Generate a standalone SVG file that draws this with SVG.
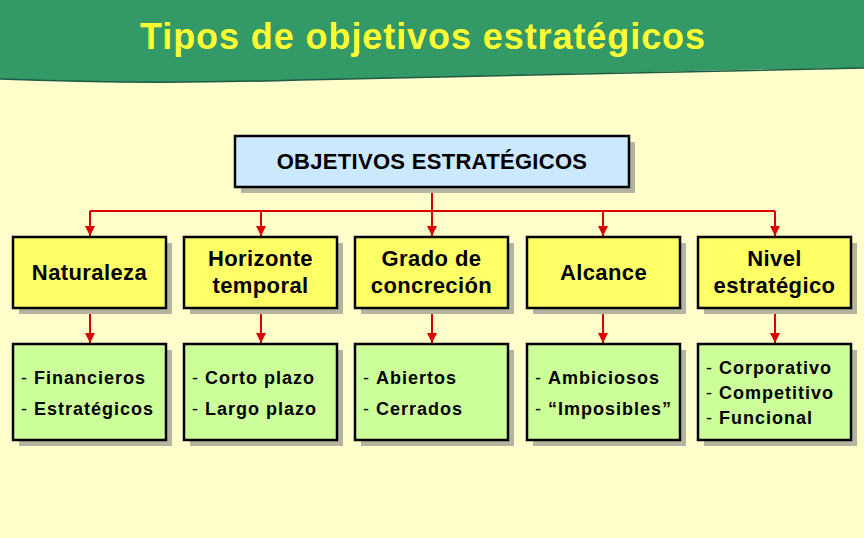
<svg xmlns="http://www.w3.org/2000/svg" width="864" height="538" viewBox="0 0 864 538">
<defs>
<marker id="arr" viewBox="0 0 10 10" refX="10" refY="5" markerWidth="10" markerHeight="10" markerUnits="userSpaceOnUse" orient="auto">
<path d="M0,0 L10,5 L0,10 z" fill="#DD0000"/>
</marker>
</defs>
<style>
.sh{fill:#B4B4A0}
.top{fill:#CCE8FF;stroke:#000;stroke-width:2.5}
.l2{fill:#FFFF66;stroke:#000;stroke-width:2.5}
.l3{fill:#CCFF99;stroke:#000;stroke-width:2.5}
text{font-family:"Liberation Sans",Arial,sans-serif;font-weight:bold;fill:#000}
.t2{font-size:22px;text-anchor:middle;letter-spacing:0.4px}
.t3{font-size:18px;letter-spacing:1px}
.d{font-weight:normal}
.c{stroke:#DD0000;stroke-width:2;fill:none}
</style>
<rect width="864" height="538" fill="#FFFFCC"/>
<path d="M0,0 H864 V68 C700,70 500,76 300,80 C200,83 100,83 0,79 Z" fill="#339966"/>
<path d="M864,68 C700,70 500,76 300,80 C200,83 100,83 0,79" fill="none" stroke="#1E5A44" stroke-width="1.5"/>
<text x="140" y="49" font-size="36" textLength="565" lengthAdjust="spacing" style="fill:#FFFF33">Tipos de objetivos estratégicos</text>

<g id="connectors">
<path class="c" d="M432,187 V211 M90,211 H775"/>
<path class="c" d="M90,211 V236" marker-end="url(#arr)"/>
<path class="c" d="M261,211 V236" marker-end="url(#arr)"/>
<path class="c" d="M432,211 V236" marker-end="url(#arr)"/>
<path class="c" d="M603,211 V236" marker-end="url(#arr)"/>
<path class="c" d="M775,211 V236" marker-end="url(#arr)"/>
<path class="c" d="M90,308 V343" marker-end="url(#arr)"/>
<path class="c" d="M261,308 V343" marker-end="url(#arr)"/>
<path class="c" d="M432,308 V343" marker-end="url(#arr)"/>
<path class="c" d="M603,308 V343" marker-end="url(#arr)"/>
<path class="c" d="M775,308 V343" marker-end="url(#arr)"/>
</g>

<g id="objetivos">
<rect class="sh" x="241" y="142" width="394" height="51"/>
<rect class="top" x="235" y="136" width="394" height="51"/>
<text x="432" y="169" font-size="22" letter-spacing="0.3" text-anchor="middle">OBJETIVOS ESTRATÉGICOS</text>
</g>

<g id="naturaleza">
<rect class="sh" x="19" y="243" width="153" height="71"/>
<rect class="l2" x="13" y="237" width="153" height="71"/>
<text class="t2" x="89.5" y="280">Naturaleza</text>
</g>
<g id="horizonte">
<rect class="sh" x="190" y="243" width="153" height="71"/>
<rect class="l2" x="184" y="237" width="153" height="71"/>
<text class="t2" x="260.5" y="266">Horizonte</text>
<text class="t2" x="260.5" y="293">temporal</text>
</g>
<g id="grado">
<rect class="sh" x="361" y="243" width="153" height="71"/>
<rect class="l2" x="355" y="237" width="153" height="71"/>
<text class="t2" x="431.5" y="266">Grado de</text>
<text class="t2" x="431.5" y="293">concreción</text>
</g>
<g id="alcance">
<rect class="sh" x="533" y="243" width="153" height="71"/>
<rect class="l2" x="527" y="237" width="153" height="71"/>
<text class="t2" x="603.5" y="280">Alcance</text>
</g>
<g id="nivel">
<rect class="sh" x="704" y="243" width="153" height="71"/>
<rect class="l2" x="698" y="237" width="153" height="71"/>
<text class="t2" x="774.5" y="266">Nivel</text>
<text class="t2" x="774.5" y="293">estratégico</text>
</g>

<g id="tipos-naturaleza">
<rect class="sh" x="19" y="350" width="153" height="96"/>
<rect class="l3" x="13" y="344" width="153" height="96"/>
<text class="t3" x="21" y="384"><tspan class="d">- </tspan>Financieros</text>
<text class="t3" x="21" y="415"><tspan class="d">- </tspan>Estratégicos</text>
</g>
<g id="tipos-horizonte">
<rect class="sh" x="190" y="350" width="153" height="96"/>
<rect class="l3" x="184" y="344" width="153" height="96"/>
<text class="t3" x="192" y="384"><tspan class="d">- </tspan>Corto plazo</text>
<text class="t3" x="192" y="415"><tspan class="d">- </tspan>Largo plazo</text>
</g>
<g id="tipos-grado">
<rect class="sh" x="361" y="350" width="153" height="96"/>
<rect class="l3" x="355" y="344" width="153" height="96"/>
<text class="t3" x="363" y="384"><tspan class="d">- </tspan>Abiertos</text>
<text class="t3" x="363" y="415"><tspan class="d">- </tspan>Cerrados</text>
</g>
<g id="tipos-alcance">
<rect class="sh" x="533" y="350" width="153" height="96"/>
<rect class="l3" x="527" y="344" width="153" height="96"/>
<text class="t3" x="535" y="384"><tspan class="d">- </tspan>Ambiciosos</text>
<text class="t3" x="535" y="415"><tspan class="d">- </tspan>“Imposibles”</text>
</g>
<g id="tipos-nivel">
<rect class="sh" x="704" y="350" width="153" height="96"/>
<rect class="l3" x="698" y="344" width="153" height="96"/>
<text class="t3" x="706" y="374"><tspan class="d">- </tspan>Corporativo</text>
<text class="t3" x="706" y="399"><tspan class="d">- </tspan>Competitivo</text>
<text class="t3" x="706" y="424"><tspan class="d">- </tspan>Funcional</text>
</g>
</svg>
